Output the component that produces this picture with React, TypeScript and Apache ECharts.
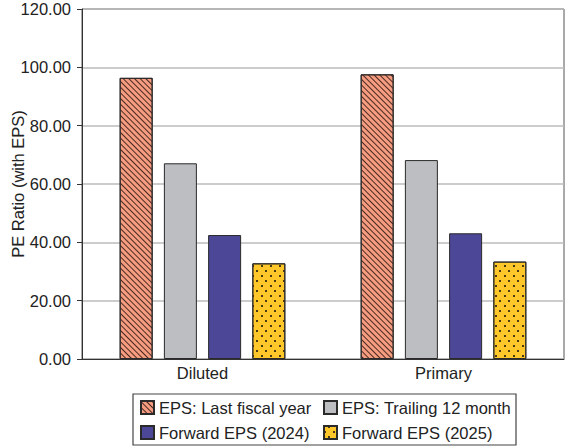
import React, { useEffect, useRef } from "react";
import * as echarts from "echarts";

const categories = ["Diluted", "Primary"];
const seriesNames = [
  "EPS: Last fiscal year",
  "EPS: Trailing 12 month",
  "Forward EPS (2024)",
  "Forward EPS (2025)",
];
const lastFiscalYear = [96.4, 97.6];
const trailing12Month = [67.1, 68.2];
const forward2024 = [42.5, 43.1];
const forward2025 = [32.8, 33.4];
const yTicks = [0, 20, 40, 60, 80, 100, 120];

const FONT = "Liberation Sans, Arial, Helvetica, sans-serif";
const FS = 16.5;

export default function App() {
  const ref = useRef<HTMLDivElement>(null);
  useEffect(() => {
    if (!ref.current) return;
    const chart = echarts.init(ref.current, undefined, { renderer: "svg" });
    const border = { borderColor: "#2a2a2a", borderWidth: 1 };
    const styles = [
      {
        color: "#F69C80",
        ...border,
        decal: {
          symbol: "rect",
          symbolSize: 1,
          color: "#4a2a20",
          dashArrayX: [1, 0],
          dashArrayY: [0.9, 3],
          rotation: Math.PI / 4,
        },
      },
      { color: "#BDBEC1", ...border },
      { color: "#4C4897", ...border },
      {
        color: "#FFC72A",
        ...border,
        decal: {
          symbol: "rect",
          symbolSize: 1,
          color: "#4a3a10",
          dashArrayX: [[1.3, 6.2], [0, 3.75, 1.3, 2.45]],
          dashArrayY: [1.3, 2.7],
          rotation: 0,
        },
      },
    ];
    const datas = [lastFiscalYear, trailing12Month, forward2024, forward2025];
    const legendPos = [
      { left: 140, top: 399 },
      { left: 323, top: 399 },
      { left: 140, top: 424 },
      { left: 323, top: 424 },
    ];
    chart.setOption({
      animation: false,
      textStyle: { fontFamily: FONT },
      grid: {
        left: 82,
        right: 3,
        top: 9,
        bottom: 87,
        outerBoundsMode: "none",
        containLabel: false,
        show: true,
        borderColor: "#555",
        borderWidth: 1,
      },
      legend: seriesNames.map((n, i) => ({
        data: [n],
        left: legendPos[i].left,
        top: legendPos[i].top,
        itemWidth: 13,
        itemHeight: 13,
        icon: "rect",
        padding: 0,
        textStyle: { fontSize: FS, color: "#222", fontFamily: FONT },
        selectedMode: false,
      })),
      xAxis: {
        type: "category",
        data: categories,
        axisLine: { lineStyle: { color: "#333", width: 1 } },
        axisTick: { show: false },
        axisLabel: { fontSize: FS, color: "#222", margin: 5, fontFamily: FONT },
      },
      yAxis: {
        type: "value",
        min: yTicks[0],
        max: yTicks[yTicks.length - 1],
        interval: 20,
        name: "PE Ratio (with EPS)",
        nameLocation: "middle",
        nameGap: 56,
        nameMoveOverlap: false,
        nameTextStyle: { fontSize: FS, color: "#222", fontFamily: FONT },
        axisLine: { show: true, lineStyle: { color: "#333", width: 1 } },
        axisTick: { show: true, length: 5, lineStyle: { color: "#333" } },
        axisLabel: {
          fontSize: FS,
          color: "#222",
          margin: 11,
          fontFamily: FONT,
          formatter: (v: number) => v.toFixed(2),
        },
        splitLine: { lineStyle: { color: "#BBBBBB", width: 1.5 } },
      },
      graphic: [
        {
          type: "rect",
          shape: { x: 133, y: 394, width: 383, height: 51 },
          style: { fill: "none", stroke: "#444", lineWidth: 1.2 },
          silent: true,
        },
      ],
      series: seriesNames.map((n, i) => ({
        name: n,
        type: "bar",
        data: datas[i],
        barWidth: 33,
        barGap: "34%",
        itemStyle: styles[i],
      })),
    });
    return () => chart.dispose();
  }, []);
  return (
    <div
      ref={ref}
      style={{ position: "fixed", left: 0, top: 0, width: 567, height: 446, background: "#fff" }}
    />
  );
}
